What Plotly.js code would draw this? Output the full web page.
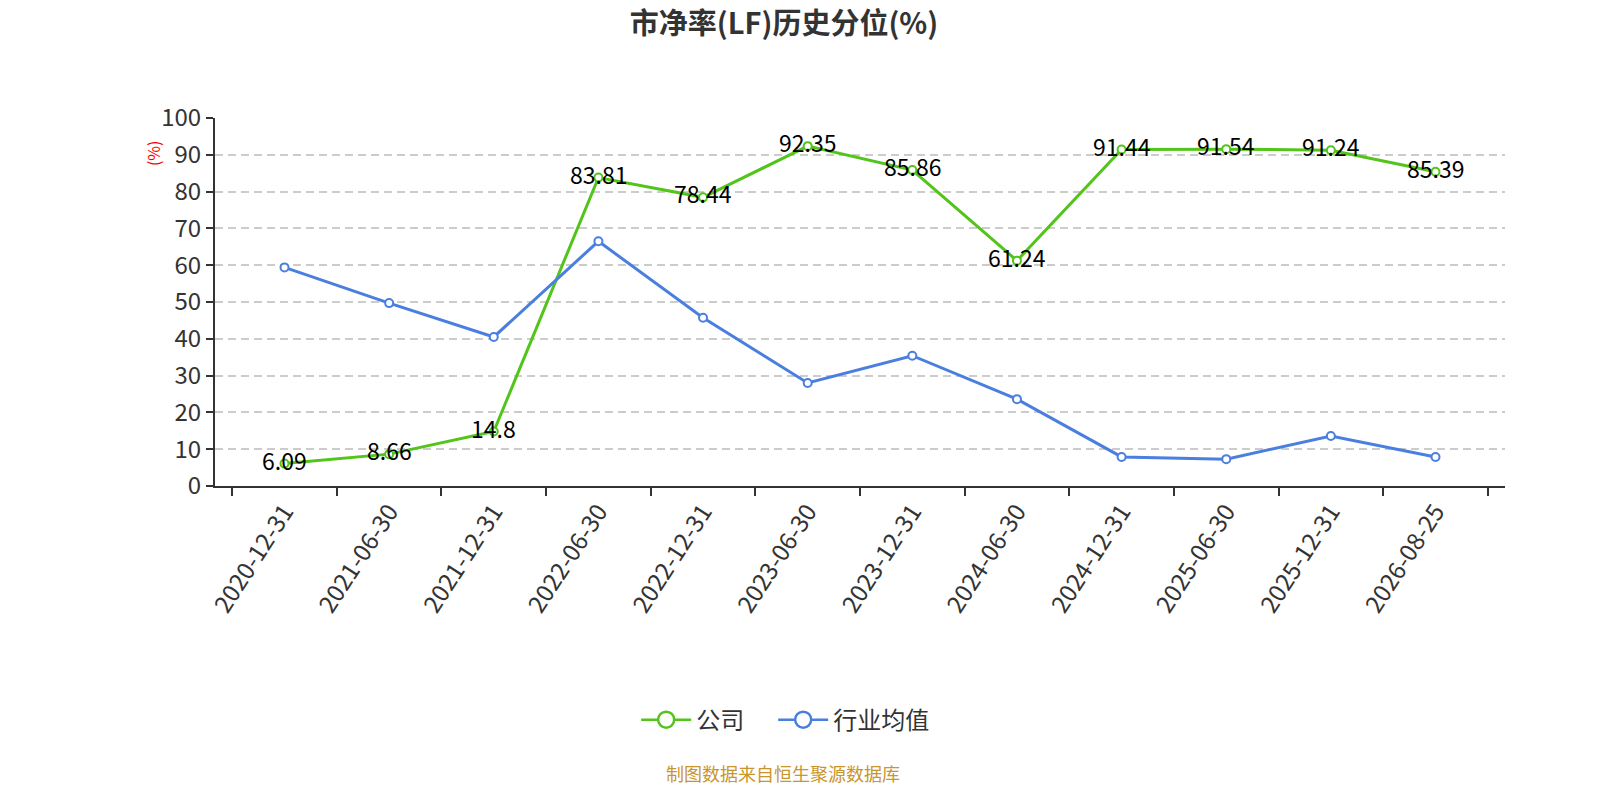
<!DOCTYPE html>
<html>
<head>
<meta charset="utf-8">
<script src="https://cdn.plot.ly/plotly-3.0.1.min.js"></script>
<style>
  body { margin: 0; background: #fff; }
  #chart { width: 1600px; height: 800px; }
</style>
</head>
<body>
<div id="chart"></div>
<script>
const dates = ["2020-12-31", "2021-06-30", "2021-12-31", "2022-06-30", "2022-12-31", "2023-06-30",
  "2023-12-31", "2024-06-30", "2024-12-31", "2025-06-30", "2025-12-31", "2026-08-25"];
const company = [6.09, 8.66, 14.8, 83.81, 78.44, 92.35, 85.86, 61.24, 91.44, 91.54, 91.24, 85.39];
const industry = [59.4, 49.7, 40.5, 66.5, 45.7, 28.0, 35.4, 23.6, 7.9, 7.3, 13.6, 7.9];

const font = '"Noto Sans CJK SC", "Noto Sans", sans-serif';
const green = '#52c41a';
const blue = '#4a7fe0';

const traces = [
  {
    x: dates, y: company, name: '公司', type: 'scatter', mode: 'lines+markers',
    line: { color: green, width: 3 },
    marker: { size: 8, color: '#fff', line: { color: green, width: 2 } },
    showlegend: false, cliponaxis: false
  },
  {
    x: dates, y: industry, name: '行业均值', type: 'scatter', mode: 'lines+markers',
    line: { color: blue, width: 3 },
    marker: { size: 8, color: '#fff', line: { color: blue, width: 2 } },
    showlegend: false
  },
  // legend entries with the bigger circle icon
  {
    x: [null], y: [null], name: '公司\u3000', type: 'scatter', mode: 'lines+markers',
    line: { color: green, width: 2.5 },
    marker: { size: 16, color: '#fff', line: { color: green, width: 2.5 } }
  },
  {
    x: [null], y: [null], name: '行业均值', type: 'scatter', mode: 'lines+markers',
    line: { color: blue, width: 2.5 },
    marker: { size: 16, color: '#fff', line: { color: blue, width: 2.5 } }
  }
];

// value labels on the company line
const labels = dates.map((d, i) => ({
  x: d, y: company[i], xref: 'x', yref: 'y',
  text: String(company[i]), showarrow: false,
  yshift: 4, font: { family: font, size: 23, color: '#000' }
}));

const layout = {
  width: 1600, height: 800,
  margin: { l: 215, r: 95, t: 118, b: 314 },
  paper_bgcolor: '#fff', plot_bgcolor: '#fff',
  font: { family: font, color: '#333' },
  title: {
    text: '<b>市净率(LF)历史分位(%)</b>',
    font: { family: font, size: 29, color: '#333' },
    x: 0.49, xanchor: 'center', y: 0.97, yanchor: 'middle'
  },
  xaxis: {
    type: 'category',
    showline: true, linecolor: '#333', linewidth: 2,
    ticks: 'outside', tickson: 'boundaries', ticklen: 8, tickcolor: '#333', tickwidth: 2,
    tickangle: -57,
    tickfont: { size: 24, color: '#333' },
    showgrid: false, zeroline: false
  },
  yaxis: {
    range: [0, 100], dtick: 10,
    showline: true, linecolor: '#333', linewidth: 2,
    ticks: 'outside', ticklen: 7, tickcolor: '#333', tickwidth: 2,
    tickfont: { size: 24, color: '#333' },
    showgrid: true, gridcolor: '#ccc', griddash: '8px,5px', gridwidth: 1.5,
    zeroline: false
  },
  showlegend: true,
  legend: {
    orientation: 'h', x: 0.442, xanchor: 'center', y: -0.636, yanchor: 'middle',
    font: { size: 24, color: '#333' }, itemwidth: 50
  },
  annotations: labels.concat([
    {
      text: '(%)', xref: 'paper', yref: 'paper', x: -0.048, y: 0.905,
      xanchor: 'center', yanchor: 'middle', textangle: -90, showarrow: false,
      font: { size: 16, color: 'red' }
    },
    {
      text: '制图数据来自恒生聚源数据库', xref: 'paper', yref: 'paper',
      x: 0.44, y: -0.78, xanchor: 'center', yanchor: 'middle', showarrow: false,
      font: { size: 18, color: '#c8962d' }
    }
  ])
};

Plotly.newPlot('chart', traces, layout, { displayModeBar: false });
</script>
</body>
</html>
